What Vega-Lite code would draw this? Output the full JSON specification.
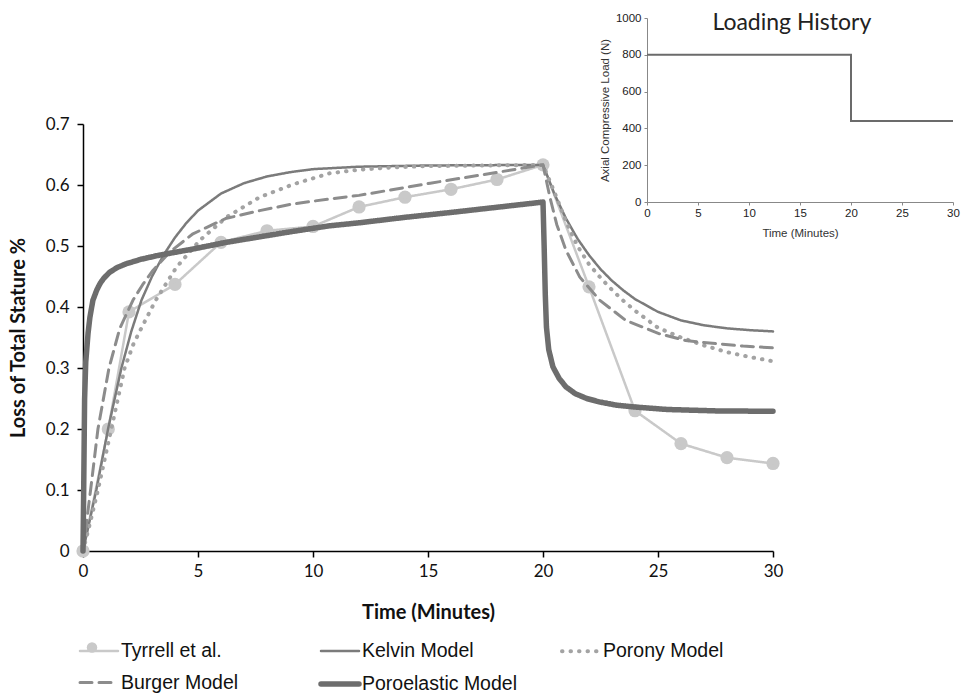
{
  "$schema": "https://vega.github.io/schema/vega-lite/v6.json",
  "width": 690,
  "height": 427,
  "autosize": {"type": "none"},
  "padding": {"left": 83, "top": 124, "right": 188, "bottom": 144},
  "background": "white",
  "config": {"view": {"stroke": null}, "font": "Lato"},
  "datasets": {
    "curves": [
      {"s": "Tyrrell et al.", "t": 0, "v": 0},
      {"s": "Tyrrell et al.", "t": 1.1, "v": 0.2},
      {"s": "Tyrrell et al.", "t": 2, "v": 0.392},
      {"s": "Tyrrell et al.", "t": 4, "v": 0.437},
      {"s": "Tyrrell et al.", "t": 6, "v": 0.506},
      {"s": "Tyrrell et al.", "t": 8, "v": 0.525},
      {"s": "Tyrrell et al.", "t": 10, "v": 0.532},
      {"s": "Tyrrell et al.", "t": 12, "v": 0.564},
      {"s": "Tyrrell et al.", "t": 14, "v": 0.58},
      {"s": "Tyrrell et al.", "t": 16, "v": 0.593},
      {"s": "Tyrrell et al.", "t": 18, "v": 0.609},
      {"s": "Tyrrell et al.", "t": 20, "v": 0.633},
      {"s": "Tyrrell et al.", "t": 22, "v": 0.433},
      {"s": "Tyrrell et al.", "t": 24, "v": 0.23},
      {"s": "Tyrrell et al.", "t": 26, "v": 0.176},
      {"s": "Tyrrell et al.", "t": 28, "v": 0.153},
      {"s": "Tyrrell et al.", "t": 30, "v": 0.1435},

      {"s": "Kelvin Model", "t": 0, "v": 0},
      {"s": "Kelvin Model", "t": 0.58, "v": 0.1},
      {"s": "Kelvin Model", "t": 1.09, "v": 0.2},
      {"s": "Kelvin Model", "t": 1.67, "v": 0.3},
      {"s": "Kelvin Model", "t": 2.1, "v": 0.36},
      {"s": "Kelvin Model", "t": 2.54, "v": 0.411},
      {"s": "Kelvin Model", "t": 3, "v": 0.45},
      {"s": "Kelvin Model", "t": 3.5, "v": 0.485},
      {"s": "Kelvin Model", "t": 4, "v": 0.514},
      {"s": "Kelvin Model", "t": 4.5, "v": 0.538},
      {"s": "Kelvin Model", "t": 5, "v": 0.558},
      {"s": "Kelvin Model", "t": 6, "v": 0.586},
      {"s": "Kelvin Model", "t": 7, "v": 0.603},
      {"s": "Kelvin Model", "t": 8, "v": 0.614},
      {"s": "Kelvin Model", "t": 9, "v": 0.621},
      {"s": "Kelvin Model", "t": 10, "v": 0.626},
      {"s": "Kelvin Model", "t": 12, "v": 0.63},
      {"s": "Kelvin Model", "t": 15, "v": 0.632},
      {"s": "Kelvin Model", "t": 20, "v": 0.633},
      {"s": "Kelvin Model", "t": 20.5, "v": 0.585},
      {"s": "Kelvin Model", "t": 21, "v": 0.545},
      {"s": "Kelvin Model", "t": 21.5, "v": 0.512},
      {"s": "Kelvin Model", "t": 22, "v": 0.485},
      {"s": "Kelvin Model", "t": 22.5, "v": 0.462},
      {"s": "Kelvin Model", "t": 23, "v": 0.443},
      {"s": "Kelvin Model", "t": 23.5, "v": 0.427},
      {"s": "Kelvin Model", "t": 24, "v": 0.413},
      {"s": "Kelvin Model", "t": 25, "v": 0.392},
      {"s": "Kelvin Model", "t": 26, "v": 0.378},
      {"s": "Kelvin Model", "t": 27, "v": 0.37},
      {"s": "Kelvin Model", "t": 28, "v": 0.365},
      {"s": "Kelvin Model", "t": 29, "v": 0.362},
      {"s": "Kelvin Model", "t": 30, "v": 0.36},

      {"s": "Porony Model", "t": 0, "v": 0},
      {"s": "Porony Model", "t": 0.3, "v": 0.045},
      {"s": "Porony Model", "t": 0.65, "v": 0.1},
      {"s": "Porony Model", "t": 1.23, "v": 0.2},
      {"s": "Porony Model", "t": 1.81, "v": 0.3},
      {"s": "Porony Model", "t": 2.2, "v": 0.34},
      {"s": "Porony Model", "t": 2.6, "v": 0.37},
      {"s": "Porony Model", "t": 3.16, "v": 0.411},
      {"s": "Porony Model", "t": 4.06, "v": 0.465},
      {"s": "Porony Model", "t": 5.07, "v": 0.509},
      {"s": "Porony Model", "t": 6.23, "v": 0.547},
      {"s": "Porony Model", "t": 7.68, "v": 0.58},
      {"s": "Porony Model", "t": 9.13, "v": 0.601},
      {"s": "Porony Model", "t": 10.7, "v": 0.619},
      {"s": "Porony Model", "t": 12, "v": 0.625},
      {"s": "Porony Model", "t": 13.5, "v": 0.629},
      {"s": "Porony Model", "t": 15, "v": 0.631},
      {"s": "Porony Model", "t": 17.5, "v": 0.632},
      {"s": "Porony Model", "t": 20, "v": 0.633},
      {"s": "Porony Model", "t": 20.5, "v": 0.588},
      {"s": "Porony Model", "t": 21, "v": 0.54},
      {"s": "Porony Model", "t": 21.5, "v": 0.5},
      {"s": "Porony Model", "t": 22, "v": 0.47},
      {"s": "Porony Model", "t": 22.5, "v": 0.448},
      {"s": "Porony Model", "t": 23, "v": 0.428},
      {"s": "Porony Model", "t": 23.5, "v": 0.41},
      {"s": "Porony Model", "t": 24, "v": 0.394},
      {"s": "Porony Model", "t": 25, "v": 0.366},
      {"s": "Porony Model", "t": 26, "v": 0.35},
      {"s": "Porony Model", "t": 27, "v": 0.337},
      {"s": "Porony Model", "t": 28, "v": 0.326},
      {"s": "Porony Model", "t": 29, "v": 0.318},
      {"s": "Porony Model", "t": 30, "v": 0.311},

      {"s": "Burger Model", "t": 0, "v": 0},
      {"s": "Burger Model", "t": 0.33, "v": 0.1},
      {"s": "Burger Model", "t": 0.65, "v": 0.2},
      {"s": "Burger Model", "t": 1.13, "v": 0.3},
      {"s": "Burger Model", "t": 1.6, "v": 0.365},
      {"s": "Burger Model", "t": 2.17, "v": 0.411},
      {"s": "Burger Model", "t": 2.6, "v": 0.437},
      {"s": "Burger Model", "t": 3.04, "v": 0.46},
      {"s": "Burger Model", "t": 3.77, "v": 0.49},
      {"s": "Burger Model", "t": 4.78, "v": 0.52},
      {"s": "Burger Model", "t": 6.2, "v": 0.545},
      {"s": "Burger Model", "t": 7.68, "v": 0.558},
      {"s": "Burger Model", "t": 9.13, "v": 0.569},
      {"s": "Burger Model", "t": 10.7, "v": 0.577},
      {"s": "Burger Model", "t": 12, "v": 0.583},
      {"s": "Burger Model", "t": 15.1, "v": 0.603},
      {"s": "Burger Model", "t": 18.7, "v": 0.625},
      {"s": "Burger Model", "t": 20, "v": 0.633},
      {"s": "Burger Model", "t": 20.3, "v": 0.58},
      {"s": "Burger Model", "t": 20.6, "v": 0.535},
      {"s": "Burger Model", "t": 21, "v": 0.493},
      {"s": "Burger Model", "t": 21.6, "v": 0.449},
      {"s": "Burger Model", "t": 22.47, "v": 0.411},
      {"s": "Burger Model", "t": 23.6, "v": 0.378},
      {"s": "Burger Model", "t": 25.07, "v": 0.356},
      {"s": "Burger Model", "t": 26.2, "v": 0.345},
      {"s": "Burger Model", "t": 27.5, "v": 0.34},
      {"s": "Burger Model", "t": 28.7, "v": 0.336},
      {"s": "Burger Model", "t": 30, "v": 0.333},

      {"s": "Poroelastic Model", "t": 0, "v": 0},
      {"s": "Poroelastic Model", "t": 0.03, "v": 0.1},
      {"s": "Poroelastic Model", "t": 0.07, "v": 0.25},
      {"s": "Poroelastic Model", "t": 0.12, "v": 0.31},
      {"s": "Poroelastic Model", "t": 0.22, "v": 0.357},
      {"s": "Poroelastic Model", "t": 0.3, "v": 0.383},
      {"s": "Poroelastic Model", "t": 0.43, "v": 0.411},
      {"s": "Poroelastic Model", "t": 0.6, "v": 0.428},
      {"s": "Poroelastic Model", "t": 0.75, "v": 0.439},
      {"s": "Poroelastic Model", "t": 0.9, "v": 0.447},
      {"s": "Poroelastic Model", "t": 1.16, "v": 0.457},
      {"s": "Poroelastic Model", "t": 1.5, "v": 0.465},
      {"s": "Poroelastic Model", "t": 1.89, "v": 0.471},
      {"s": "Poroelastic Model", "t": 2.5, "v": 0.478},
      {"s": "Poroelastic Model", "t": 3.33, "v": 0.485},
      {"s": "Poroelastic Model", "t": 4.78, "v": 0.495},
      {"s": "Poroelastic Model", "t": 6.23, "v": 0.506},
      {"s": "Poroelastic Model", "t": 7.68, "v": 0.515},
      {"s": "Poroelastic Model", "t": 9.13, "v": 0.524},
      {"s": "Poroelastic Model", "t": 10.7, "v": 0.533},
      {"s": "Poroelastic Model", "t": 12, "v": 0.538},
      {"s": "Poroelastic Model", "t": 14, "v": 0.547},
      {"s": "Poroelastic Model", "t": 16, "v": 0.555},
      {"s": "Poroelastic Model", "t": 18, "v": 0.5635},
      {"s": "Poroelastic Model", "t": 20, "v": 0.572},
      {"s": "Poroelastic Model", "t": 20.05, "v": 0.5},
      {"s": "Poroelastic Model", "t": 20.1, "v": 0.42},
      {"s": "Poroelastic Model", "t": 20.15, "v": 0.367},
      {"s": "Poroelastic Model", "t": 20.25, "v": 0.33},
      {"s": "Poroelastic Model", "t": 20.43, "v": 0.302},
      {"s": "Poroelastic Model", "t": 20.7, "v": 0.283},
      {"s": "Poroelastic Model", "t": 21, "v": 0.269},
      {"s": "Poroelastic Model", "t": 21.4, "v": 0.258},
      {"s": "Poroelastic Model", "t": 21.9, "v": 0.25},
      {"s": "Poroelastic Model", "t": 22.5, "v": 0.244},
      {"s": "Poroelastic Model", "t": 23.2, "v": 0.239},
      {"s": "Poroelastic Model", "t": 24, "v": 0.236},
      {"s": "Poroelastic Model", "t": 25.4, "v": 0.232},
      {"s": "Poroelastic Model", "t": 27.5, "v": 0.2297},
      {"s": "Poroelastic Model", "t": 30, "v": 0.229}
    ],
    "load": [
      {"i": 1, "t": 0, "load": 800},
      {"i": 2, "t": 20, "load": 800},
      {"i": 3, "t": 20, "load": 440},
      {"i": 4, "t": 30, "load": 440}
    ],
    "insetTitle": [
      {"t": 14.2, "load": 936, "label": "Loading History"}
    ]
  },
  "layer": [
    {
      "layer": [
        {
          "data": {"name": "curves"},
          "transform": [{"filter": "datum.s === 'Tyrrell et al.'"}],
          "mark": {"type": "point", "filled": true, "size": 175, "color": "#c9c9c9", "opacity": 1, "strokeWidth": 0},
          "encoding": {
            "x": {"field": "t", "type": "quantitative"},
            "y": {"field": "v", "type": "quantitative"},
            "shape": {
              "field": "s", "type": "nominal",
              "scale": {"domain": ["Tyrrell et al."], "range": ["circle"]},
              "legend": {"orient": "none", "legendX": 3.5, "legendY": 518, "title": null, "labelExpr": "''", "symbolSize": 110, "symbolFillColor": "#c9c9c9", "symbolStrokeColor": "#c9c9c9", "symbolStrokeWidth": 0, "symbolOpacity": 1, "padding": 0}
            }
          }
        },
        {
          "data": {"name": "curves"},
          "mark": {"type": "line", "strokeCap": "round", "strokeJoin": "round"},
          "encoding": {
            "x": {
              "field": "t", "type": "quantitative",
              "scale": {"domain": [0, 30], "nice": false, "zero": false},
              "axis": {"values": [0, 5, 10, 15, 20, 25, 30], "labelFlush": false, "grid": false, "domainColor": "#000", "domainWidth": 1.5, "tickColor": "#000", "tickWidth": 1.5, "tickSize": 6, "labelFont": "Lato", "labelFontSize": 17, "labelColor": "#111", "labelPadding": 6, "title": "Time (Minutes)", "titleFont": "Lato", "titleFontSize": 20, "titleFontWeight": "bold", "titleColor": "#111", "titlePadding": 23}
            },
            "y": {
              "field": "v", "type": "quantitative",
              "scale": {"domain": [0, 0.7], "nice": false},
              "axis": {"values": [0, 0.1, 0.2, 0.3, 0.4, 0.5, 0.6, 0.7], "labelFlush": false, "labelExpr": "datum.value == 0 ? '0' : format(datum.value, '.1f')", "grid": false, "domainColor": "#000", "domainWidth": 1.5, "tickColor": "#000", "tickWidth": 1.5, "tickSize": 6, "labelFont": "Lato", "labelFontSize": 17, "labelColor": "#111", "labelPadding": 8, "title": "Loss of Total Stature %", "titleFont": "Lato", "titleFontSize": 20, "titleFontWeight": "bold", "titleColor": "#111", "titlePadding": 17}
            },
            "color": {
              "field": "s", "type": "nominal",
              "scale": {"domain": ["Tyrrell et al.", "Kelvin Model", "Porony Model", "Burger Model", "Poroelastic Model"], "range": ["#c9c9c9", "#7b7b7b", "#a3a3a3", "#8c8c8c", "#6d6d6d"]},
              "legend": {"orient": "none", "legendX": -6, "legendY": 505, "title": null, "direction": "horizontal", "columns": 3, "gridAlign": "all", "columnPadding": 34, "rowPadding": -6, "symbolType": "stroke", "symbolSize": 1444, "labelFont": "Liberation Sans", "labelFontSize": 19.5, "labelColor": "#111", "labelOffset": 0, "padding": 0, "labelLimit": 400, "encode": {"symbols": {"update": {"strokeCap": {"value": "round"}}}}}
            },
            "strokeDash": {
              "field": "s", "type": "nominal",
              "scale": {"domain": ["Tyrrell et al.", "Kelvin Model", "Porony Model", "Burger Model", "Poroelastic Model"], "range": [[1, 0], [1, 0], [0.5, 8], [12, 7], [1, 0]]}
            },
            "strokeWidth": {
              "field": "s", "type": "nominal",
              "scale": {"type": "ordinal", "domain": ["Tyrrell et al.", "Kelvin Model", "Porony Model", "Burger Model", "Poroelastic Model"], "range": [2.5, 2.5, 4, 3, 5.5]}
            },
            "detail": {"field": "s"}
          }
        }
      ]
    },
    {
      "layer": [
        {
          "data": {"name": "load"},
          "mark": {"type": "line", "color": "#6b6b6b", "strokeWidth": 2},
          "encoding": {
            "x": {
              "field": "t", "type": "quantitative",
              "scale": {"domain": [0, 30], "range": [564, 870], "nice": false, "zero": false},
              "axis": {"orient": "bottom", "offset": -349, "values": [0, 5, 10, 15, 20, 25, 30], "labelFlush": false, "grid": false, "domainColor": "#888", "tickColor": "#888", "tickSize": 3, "labelFont": "Liberation Sans", "labelFontSize": 11.5, "labelColor": "#222", "labelPadding": 2, "title": "Time (Minutes)", "titleFont": "Liberation Sans", "titleFontSize": 11.5, "titleFontWeight": "normal", "titleColor": "#333", "titlePadding": 9}
            },
            "y": {
              "field": "load", "type": "quantitative",
              "scale": {"domain": [0, 1000], "range": [78, -106], "nice": false},
              "axis": {"orient": "left", "offset": -564, "values": [0, 200, 400, 600, 800, 1000], "labelFlush": false, "format": "d", "grid": false, "domainColor": "#888", "tickColor": "#888", "tickSize": 3, "labelFont": "Liberation Sans", "labelFontSize": 11.5, "labelColor": "#222", "labelPadding": 3, "title": "Axial Compressive Load (N)", "titleFont": "Liberation Sans", "titleFontSize": 11.5, "titleFontWeight": "normal", "titleColor": "#333", "titlePadding": 5}
            },
            "order": {"field": "i"}
          }
        },
        {
          "data": {"name": "insetTitle"},
          "mark": {"type": "text", "font": "Lato", "fontSize": 23, "color": "#222", "baseline": "alphabetic", "align": "center"},
          "encoding": {
            "x": {"field": "t", "type": "quantitative"},
            "y": {"field": "load", "type": "quantitative"},
            "text": {"field": "label"}
          }
        }
      ]
    }
  ],
  "resolve": {"scale": {"x": "independent", "y": "independent"}}
}
